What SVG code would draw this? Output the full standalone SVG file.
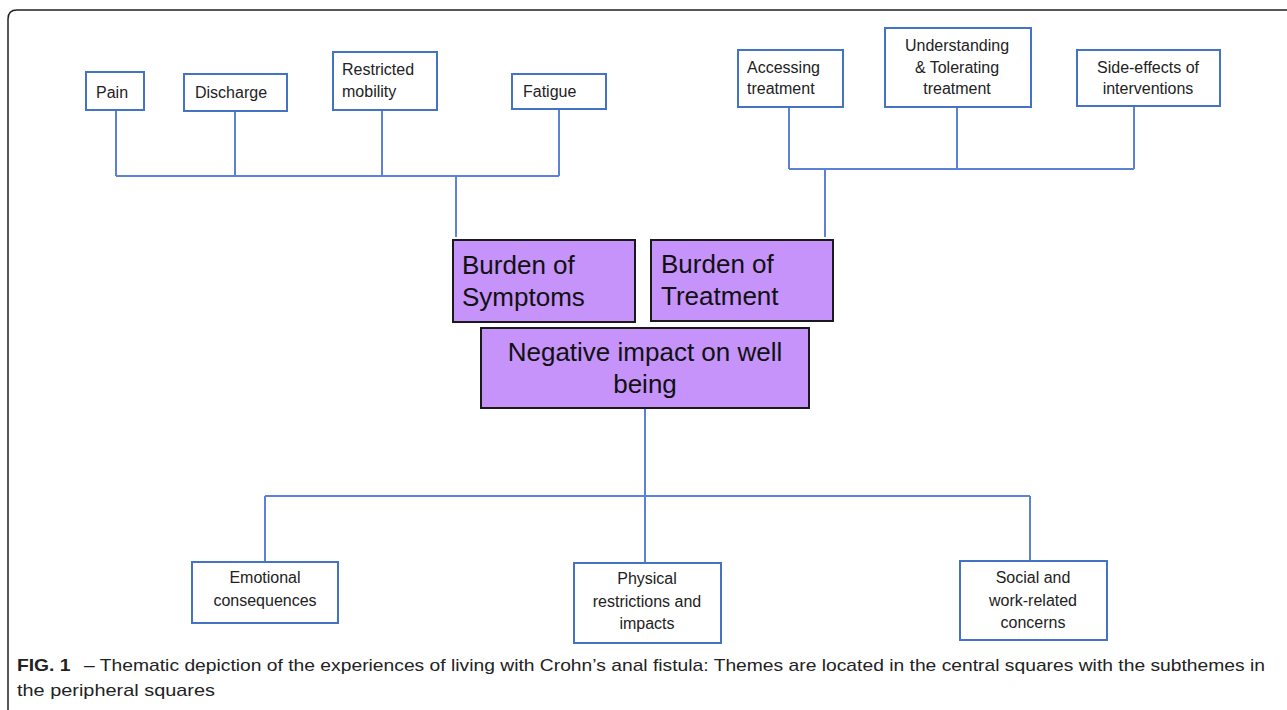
<svg xmlns="http://www.w3.org/2000/svg" width="1287" height="710" viewBox="0 0 1287 710">
<style>
.sub{fill:#fff;stroke:#4472C4;stroke-width:2}
.theme{fill:#C593FA;stroke:#1a1a1a;stroke-width:2}
.st{font-family:"Liberation Sans",Arial,sans-serif;font-size:16px;fill:#222}
.tt{font-family:"Liberation Sans",Arial,sans-serif;font-size:26px;fill:#111}
.cap{font-family:"Liberation Sans",Arial,sans-serif;font-size:17px;fill:#222}
.con{fill:none;stroke:#5B82D6;stroke-width:2}
</style>
<rect width="1287" height="710" fill="#fff"/>
<path d="M8,710 V19 Q8,10 17,10 H1287" fill="none" stroke="#222" stroke-width="1.5"/>
<g id="connectors" class="con">
<path d="M116,110 V176 M235,111 V176 M382,110 V176 M559,109 V176 M116,176 H559 M456,176 V237"/>
<path d="M789,107 V169 M957,107 V169 M1134,106 V169 M789,169 H1134 M825,169 V237"/>
<path d="M645,408 V496 M265,496 H1030 M265,496 V562 M645,496 V563 M1030,496 V561"/>
</g>
<g id="pain"><rect class="sub" x="86" y="72" width="58" height="38"/><text class="st" x="96" y="98">Pain</text></g>
<g id="discharge"><rect class="sub" x="184" y="74" width="103" height="37"/><text class="st" x="195" y="98">Discharge</text></g>
<g id="restricted"><rect class="sub" x="333" y="52" width="104" height="58"/><text class="st" x="342" y="75">Restricted</text><text class="st" x="342" y="97">mobility</text></g>
<g id="fatigue"><rect class="sub" x="512" y="74" width="94" height="35"/><text class="st" x="523" y="97">Fatigue</text></g>
<g id="accessing"><rect class="sub" x="738" y="50" width="105" height="57"/><text class="st" x="747" y="73">Accessing</text><text class="st" x="747" y="94">treatment</text></g>
<g id="understanding"><rect class="sub" x="885" y="28" width="146" height="79"/><text class="st" text-anchor="middle" x="957" y="51">Understanding</text><text class="st" text-anchor="middle" x="957" y="73">&amp; Tolerating</text><text class="st" text-anchor="middle" x="957" y="94">treatment</text></g>
<g id="sideeffects"><rect class="sub" x="1077" y="50" width="143" height="56"/><text class="st" text-anchor="middle" x="1148" y="73">Side-effects of</text><text class="st" text-anchor="middle" x="1148" y="94">interventions</text></g>
<g id="burden-symptoms"><rect class="theme" x="453" y="240" width="182" height="82"/><text class="tt" x="462" y="274">Burden of</text><text class="tt" x="462" y="306">Symptoms</text></g>
<g id="burden-treatment"><rect class="theme" x="651" y="240" width="182" height="81"/><text class="tt" x="661" y="273">Burden of</text><text class="tt" x="661" y="305">Treatment</text></g>
<g id="negative"><rect class="theme" x="481" y="328" width="328" height="80"/><text class="tt" text-anchor="middle" x="645" y="361">Negative impact on well</text><text class="tt" text-anchor="middle" x="645" y="393">being</text></g>
<g id="emotional"><rect class="sub" x="192" y="562" width="146" height="61"/><text class="st" text-anchor="middle" x="265" y="583">Emotional</text><text class="st" text-anchor="middle" x="265" y="606">consequences</text></g>
<g id="physical"><rect class="sub" x="574" y="563" width="147" height="80"/><text class="st" text-anchor="middle" x="647" y="584">Physical</text><text class="st" text-anchor="middle" x="647" y="607">restrictions and</text><text class="st" text-anchor="middle" x="647" y="629">impacts</text></g>
<g id="social"><rect class="sub" x="960" y="561" width="147" height="79"/><text class="st" text-anchor="middle" x="1033" y="583">Social and</text><text class="st" text-anchor="middle" x="1033" y="606">work-related</text><text class="st" text-anchor="middle" x="1033" y="628">concerns</text></g>
<g id="caption">
<text class="cap" x="17" y="671" textLength="1248" lengthAdjust="spacingAndGlyphs"><tspan font-weight="bold">FIG. 1</tspan><tspan dx="12">– Thematic depiction of the experiences of living with Crohn’s anal fistula: Themes are located in the central squares with the subthemes in</tspan></text>
<text class="cap" x="17" y="696" textLength="198" lengthAdjust="spacingAndGlyphs">the peripheral squares</text>
</g>
</svg>
